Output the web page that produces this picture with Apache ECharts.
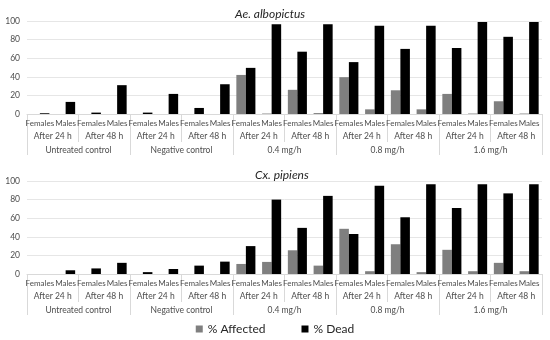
<!DOCTYPE html>
<html><head><meta charset="utf-8">
<script src="https://cdn.jsdelivr.net/npm/echarts@6/dist/echarts.min.js"></script>
<style>html,body{margin:0;padding:0;background:#fff}#c{width:550px;height:340px}</style>
</head><body><div id="c"></div>
<script>
var sexLabels = ['Females','Males','Females','Males','Females','Males','Females','Males','Females','Males','Females','Males','Females','Males','Females','Males','Females','Males','Females','Males'];
var timeLabels = ['After 24 h','After 48 h','After 24 h','After 48 h','After 24 h','After 48 h','After 24 h','After 48 h','After 24 h','After 48 h'];
var groupLabels = ['Untreated control','Negative control','0.4 mg/h','0.8 mg/h','1.6 mg/h'];
var yTicks = [0,20,40,60,80,100];
var titles = ['Ae. albopictus','Cx. pipiens'];
var seriesNames = ['% Affected','% Dead'];

var aeAffected = [0,0,0,0, 0,0,0,0, 42,0.5,26,1, 39.6,5,25.5,5, 21.6,0.5,13.7,0.5];
var aeDead     = [0.8,13,1.5,31, 1.5,21.6,6.5,32, 49.6,96.4,67,96.4, 55.8,95,70,95, 71,99,83,99];
var cxAffected = [0,0,0,0, 0,0,0,0, 10.8,13,25.5,9, 48.6,3,32,2, 26,3,12,3];
var cxDead     = [0,4,6,12, 2,5.4,9,13.3, 30,80,49.6,84, 43,95,61,96.4, 71,96.4,86.7,96.4];

var FONT = 'Lato';
var txt = '#4d4d4d';
var lineC = '#d9d9d9';
var grids = [
  {left:27, right:8, top:21, height:93},
  {left:27, right:8, top:181, height:93}
];
var xAxes = [], yAxes = [], series = [];
[[aeAffected, aeDead],[cxAffected, cxDead]].forEach(function(d, g){
  var base = xAxes.length;
  xAxes.push({type:'category', gridIndex:g, data:sexLabels, position:'bottom',
    axisLine:{show:true, lineStyle:{color:lineC}}, axisTick:{show:false},
    axisLabel:{interval:0, margin:5, fontSize:8, color:txt, fontFamily:FONT}});
  xAxes.push({type:'category', gridIndex:g, data:timeLabels, position:'bottom',
    axisLine:{show:false}, axisTick:{show:true, interval:0, length:28, lineStyle:{color:lineC}},
    axisLabel:{interval:0, margin:18, fontSize:8.5, color:txt, fontFamily:FONT}});
  xAxes.push({type:'category', gridIndex:g, data:groupLabels, position:'bottom',
    axisLine:{show:false}, axisTick:{show:true, interval:0, length:41, lineStyle:{color:lineC}},
    axisLabel:{interval:0, margin:32, fontSize:8.5, color:txt, fontFamily:FONT}});
  yAxes.push({type:'value', gridIndex:g, min:yTicks[0], max:yTicks[yTicks.length-1], interval:20,
    axisLine:{show:false}, axisTick:{show:false},
    splitLine:{lineStyle:{color:'#e6e6e6'}},
    axisLabel:{margin:7, fontSize:8.5, color:txt, fontFamily:FONT}});
  series.push({name:seriesNames[0], type:'bar', xAxisIndex:base, yAxisIndex:g, data:d[0],
    barGap:'0%', barCategoryGap:'26%', itemStyle:{color:'#7f7f7f'}});
  series.push({name:seriesNames[1], type:'bar', xAxisIndex:base, yAxisIndex:g, data:d[1],
    barGap:'0%', barCategoryGap:'26%', itemStyle:{color:'#000000'}});
});

var chart = echarts.init(document.getElementById('c'), null, {renderer:'canvas'});
chart.setOption({
  animation:false,
  backgroundColor:'#fff',
  title:[
    {text:titles[0], left:230, top:3, textStyle:{fontSize:12, fontStyle:'italic', fontWeight:'normal', color:'#262626', fontFamily:FONT}},
    {text:titles[1], left:250, top:164, textStyle:{fontSize:12, fontStyle:'italic', fontWeight:'normal', color:'#262626', fontFamily:FONT}}
  ],
  legend:{data:seriesNames, left:'center', top:318, itemWidth:7, itemHeight:7, itemGap:36,
    icon:'rect', textStyle:{fontSize:12, color:'#262626', fontFamily:FONT}},
  grid:grids, xAxis:xAxes, yAxis:yAxes, series:series
});
</script></body></html>
